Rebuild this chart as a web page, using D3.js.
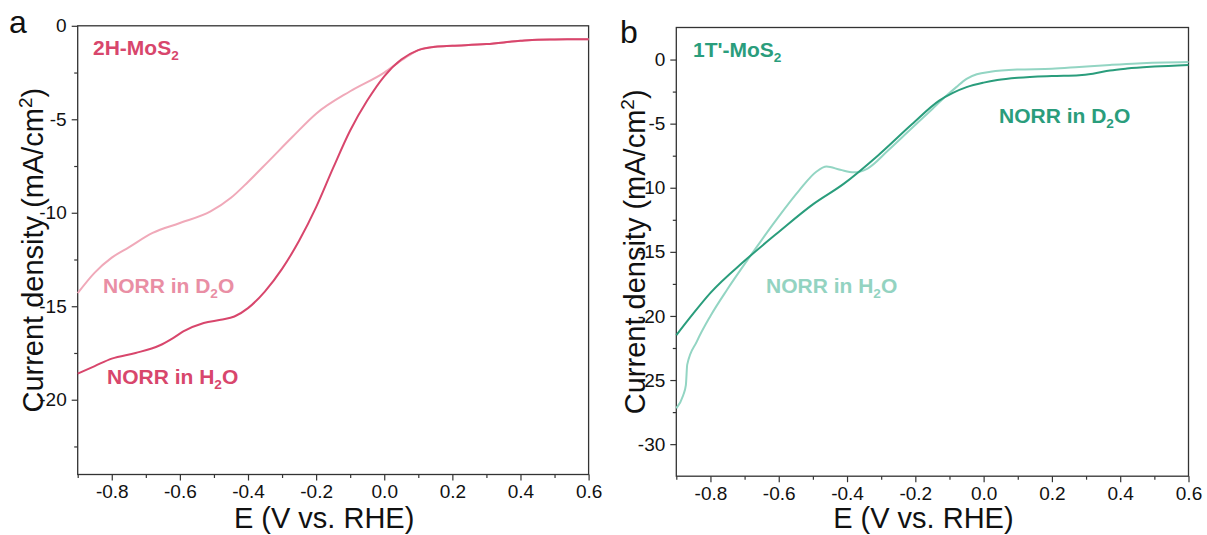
<!DOCTYPE html>
<html>
<head>
<meta charset="utf-8">
<script src="https://cdn.jsdelivr.net/npm/d3@7"></script>
<style>
  body { margin: 0; background: #fff; }
  svg { display: block; font-family: "Liberation Sans", Arial, sans-serif; }
</style>
</head>
<body>
<svg width="1207" height="535"></svg>
<script>
// ---- data ----
const xTicks = [-0.8, -0.6, -0.4, -0.2, 0.0, 0.2, 0.4, 0.6];
const xMinor = [-0.9, -0.7, -0.5, -0.3, -0.1, 0.1, 0.3, 0.5];

// panel a: 2H-MoS2
const aYTicks = [0, -5, -10, -15, -20];
const aYMinor = [-2.5, -7.5, -12.5, -17.5, -22.5];
const aH2O_E = [-0.9, -0.85, -0.8, -0.73, -0.66, -0.62, -0.59, -0.53, -0.48, -0.44, -0.4, -0.35, -0.3, -0.25, -0.2, -0.15, -0.1, -0.05, 0.0, 0.05, 0.1, 0.15, 0.2, 0.3, 0.4, 0.45, 0.5, 0.6];
const aH2O_J = [-18.6, -18.2, -17.8, -17.5, -17.1, -16.7, -16.35, -15.9, -15.72, -15.55, -15.1, -14.2, -13.0, -11.5, -9.7, -7.6, -5.6, -4.0, -2.7, -1.8, -1.3, -1.12, -1.07, -0.98, -0.8, -0.74, -0.73, -0.72];
const aD2O_E = [-0.9, -0.85, -0.8, -0.75, -0.68, -0.6, -0.51, -0.45, -0.4, -0.34, -0.27, -0.2, -0.1, 0.0, 0.05, 0.08, 0.1, 0.15, 0.2, 0.3, 0.4, 0.45, 0.5, 0.6];
const aD2O_J = [-14.3, -13.2, -12.4, -11.85, -11.08, -10.55, -9.93, -9.2, -8.35, -7.25, -5.95, -4.7, -3.5, -2.5, -1.85, -1.5, -1.3, -1.12, -1.07, -0.98, -0.8, -0.74, -0.73, -0.72];

// panel b: 1T'-MoS2
const bYTicks = [0, -5, -10, -15, -20, -25, -30];
const bYMinor = [-2.5, -7.5, -12.5, -17.5, -22.5, -27.5];
const bD2O_E = [-0.9, -0.85, -0.8, -0.7, -0.6, -0.5, -0.41, -0.31, -0.21, -0.13, -0.09, -0.05, 0.0, 0.04, 0.1, 0.2, 0.28, 0.32, 0.37, 0.42, 0.5, 0.6];
const bD2O_J = [-21.5, -19.8, -18.2, -15.7, -13.45, -11.3, -9.7, -7.5, -5.05, -3.2, -2.6, -2.15, -1.8, -1.6, -1.42, -1.28, -1.22, -1.1, -0.85, -0.7, -0.55, -0.42];
const bH2O_E = [-0.9, -0.88, -0.872, -0.868, -0.84, -0.8, -0.75, -0.68, -0.61, -0.54, -0.49, -0.46, -0.42, -0.38, -0.34, -0.28, -0.22, -0.15, -0.11, -0.08, -0.05, -0.02, 0.02, 0.1, 0.2, 0.28, 0.37, 0.45, 0.6];
const bH2O_J = [-27.2, -26.2, -25.4, -23.8, -22.0, -20.0, -17.9, -15.2, -12.6, -10.2, -8.75, -8.35, -8.6, -8.8, -8.5, -7.1, -5.6, -3.85, -2.85, -2.15, -1.5, -1.15, -0.95, -0.78, -0.72, -0.58, -0.42, -0.3, -0.2];

const svg = d3.select('svg');
svg.append('rect').attr('width', 1207).attr('height', 535).attr('fill', '#fff');

const zip = (xs, ys) => xs.map((x, i) => ({e: x, j: ys[i]}));
const hyphen = f => d => f(d).replace('\u2212', '-');

function label(g, x, y, color, parts, size) {
  const t = g.append('text')
    .attr('x', x).attr('y', y)
    .attr('fill', color)
    .attr('font-weight', 'bold')
    .attr('font-size', size);
  parts.forEach(p => {
    const s = t.append('tspan').text(p[0]);
    if (p[1]) s.attr('font-size', size * 0.65).attr('dy', 5);
    else if (p[2]) s.attr('dy', -5);
  });
  return t;
}

const drawPanel = p => {
  const x = d3.scaleLinear().domain([-0.9, 0.6]).range([p.x0, p.x1]);
  const y = d3.scaleLinear().domain(p.yDomain).range([p.y1, p.y0]);
  const g = svg.append('g');

  // minor ticks
  g.append('g').attr('transform', `translate(0,${p.y1})`)
    .call(d3.axisBottom(x).tickValues(xMinor).tickSize(3.5).tickFormat(''))
    .call(s => s.select('.domain').remove());
  g.append('g').attr('transform', `translate(${p.x0},0)`)
    .call(d3.axisLeft(y).tickValues(p.yMinor).tickSize(3.5).tickFormat(''))
    .call(s => s.select('.domain').remove());

  // major ticks
  const xa = g.append('g').attr('transform', `translate(0,${p.y1})`)
    .call(d3.axisBottom(x).tickValues(xTicks).tickSize(6).tickPadding(4).tickFormat(hyphen(d3.format('.1f'))));
  xa.select('.domain').remove();
  xa.selectAll('text').attr('font-size', 19).attr('fill', '#111').attr('font-family', 'Liberation Sans, Arial, sans-serif');

  const ya = g.append('g').attr('transform', `translate(${p.x0},0)`)
    .call(d3.axisLeft(y).tickValues(p.yTicks).tickSize(6).tickPadding(5).tickFormat(hyphen(d3.format('d'))));
  ya.select('.domain').remove();
  ya.selectAll('text').attr('font-size', 19).attr('fill', '#111').attr('font-family', 'Liberation Sans, Arial, sans-serif');
  g.selectAll('.tick line').attr('stroke', '#333').attr('stroke-width', 1.2);

  // frame
  g.append('rect')
    .attr('x', p.x0).attr('y', p.y0)
    .attr('width', p.x1 - p.x0).attr('height', p.y1 - p.y0)
    .attr('fill', 'none').attr('stroke', '#333').attr('stroke-width', 1.3);

  const line = d3.line().x(d => x(d.e)).y(d => y(d.j)).curve(d3.curveMonotoneX);
  p.series.forEach(s => {
    g.append('path').datum(zip(s.e, s.j))
      .attr('d', line)
      .attr('fill', 'none')
      .attr('stroke', s.color)
      .attr('stroke-width', 2);
  });

  // axis titles
  g.append('text')
    .attr('x', (p.x0 + p.x1) / 2 - 9).attr('y', 528)
    .attr('text-anchor', 'middle').attr('font-size', 29).attr('fill', '#111')
    .text('E (V vs. RHE)');
  const yt = g.append('text')
    .attr('transform', `translate(${p.titleX},${(p.y0 + p.y1) / 2}) rotate(-90)`)
    .attr('text-anchor', 'middle').attr('font-size', 29).attr('fill', '#111');
  yt.append('tspan').text('Current density (mA/cm');
  yt.append('tspan').text('2').attr('font-size', 19).attr('dy', -11);
  yt.append('tspan').text(')').attr('dy', 11);

  // panel letter
  g.append('text').attr('x', p.letterX).attr('y', p.letterY)
    .attr('font-size', 32).attr('fill', '#111').text(p.letter);

  p.labels.forEach(l => label(g, l.x, l.y, l.color, l.parts, 21));
};

drawPanel({
  x0: 77.7, x1: 588.6, y0: 25.8, y1: 474.5,
  yDomain: [-24, 0], yTicks: aYTicks, yMinor: aYMinor,
  titleX: 43, letter: 'a', letterX: 9, letterY: 33,
  series: [
    {e: aD2O_E, j: aD2O_J, color: '#f0a9b9'},
    {e: aH2O_E, j: aH2O_J, color: '#d8466c'}
  ],
  labels: [
    {x: 93, y: 55, color: '#d8466c', parts: [['2H-MoS'], ['2', true]]},
    {x: 103, y: 293, color: '#e98ea4', parts: [['NORR in D'], ['2', true], ['O', false, true]]},
    {x: 107, y: 384, color: '#d8466c', parts: [['NORR in H'], ['2', true], ['O', false, true]]}
  ]
});

drawPanel({
  x0: 676.3, x1: 1188.5, y0: 27.5, y1: 476.2,
  yDomain: [-32.5, 2.5], yTicks: bYTicks, yMinor: bYMinor,
  titleX: 645, letter: 'b', letterX: 620, letterY: 43,
  series: [
    {e: bH2O_E, j: bH2O_J, color: '#93d5c3'},
    {e: bD2O_E, j: bD2O_J, color: '#2a9d7c'}
  ],
  labels: [
    {x: 693, y: 57, color: '#2a9d7c', parts: [['1T\'-MoS'], ['2', true]]},
    {x: 999, y: 123, color: '#2a9d7c', parts: [['NORR in D'], ['2', true], ['O', false, true]]},
    {x: 766, y: 293, color: '#93d3c1', parts: [['NORR in H'], ['2', true], ['O', false, true]]}
  ]
});
</script>
</body>
</html>
